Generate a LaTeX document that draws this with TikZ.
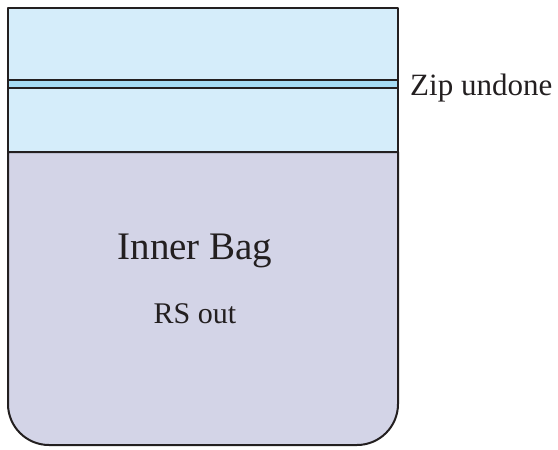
\documentclass[tikz,border=0pt]{standalone}
\usepackage{fontspec}
\setmainfont{Liberation Serif}
\usepackage{tikz}
\definecolor{inkline}{HTML}{231F20}
\definecolor{topblue}{HTML}{D5EDFA}
\definecolor{zipblue}{HTML}{A6DBF3}
\definecolor{baglav}{HTML}{D3D4E7}

\begin{document}
\begin{tikzpicture}[
  x=1pt, y=-1pt,
  edge/.style={draw=inkline, line width=2pt, line join=round},
  label/.style={text=inkline, inner sep=0pt, anchor=base}
]
\useasboundingbox (0,0) rectangle (558,450);
% top part of the bag
\fill[topblue] (8,8) rectangle (398,152);
\fill[zipblue] (8,80) rectangle (398,88);
% inner bag with rounded bottom
\path[edge, fill=baglav] (8,152) -- (8,300) [rounded corners=41pt]
  -- (8,445) -- (398,445) -- (398,300) [sharp corners] -- (398,152) -- cycle;
\draw[edge] (8,152) -- (8,8) -- (398,8) -- (398,152);
% zip
\draw[edge] (8,80) -- (398,80);
\draw[edge] (8,88) -- (398,88);
\node[label, font=\fontsize{39}{44}\selectfont] (inner) at (195,259) {Inner Bag};
\node[label, font=\fontsize{30}{34}\selectfont] (rsout) at (195,323) {RS out};
\node[label, anchor=base west, font=\fontsize{31}{35}\selectfont] (zip) at (410,95) {Zip undone};
\end{tikzpicture}
\end{document}
